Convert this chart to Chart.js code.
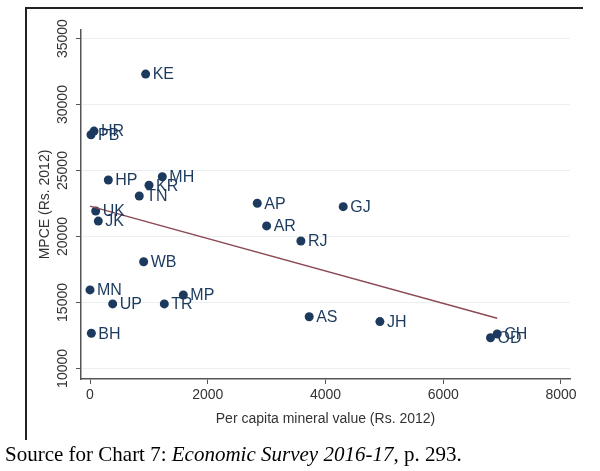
<!DOCTYPE html>
<html>
<head>
<meta charset="utf-8">
<script src="https://cdn.jsdelivr.net/npm/chart.js"></script>
<style>
  body { margin: 0; background: #fff; }
  #caja { position: relative; width: 600px; height: 471px; overflow: hidden; }
  #fuente {
    position: absolute; left: 5px; top: 442px;
    font-family: "Liberation Serif", "Times New Roman", serif;
    font-size: 21px; color: #000; white-space: nowrap;
  }
</style>
</head>
<body>
<div id="caja">
  <canvas id="myChart" width="600" height="471"></canvas>
  <div id="fuente">Source for Chart 7: <i>Economic Survey 2016-17</i>, p. 293.</div>
</div>
<script>
// Estados y valores
var estados = ['KE', 'HR', 'PB', 'HP', 'MH', 'KR', 'TN', 'UK', 'JK', 'WB', 'MN', 'UP', 'TR', 'MP', 'BH', 'AP', 'AR', 'RJ', 'GJ', 'AS', 'JH', 'CH', 'OD'];
var mineral = [945, 68, 17, 311, 1228, 1002, 837, 97, 141, 911, 0, 385, 1262, 1585, 23, 2841, 3000, 3582, 4301, 3723, 4924, 6916, 6803];
var mpce = [32310, 27990, 27710, 24280, 24530, 23880, 23070, 21930, 21170, 18090, 15950, 14890, 14890, 15570, 12670, 22520, 20800, 19660, 22260, 13920, 13550, 12610, 12330];

// Linea de ajuste (extremos)
var ajusteX = [0, 6916];
var ajusteY = [22300, 13800];

// Marcas de los ejes
var ticksX = [0, 2000, 4000, 6000, 8000];
var ticksY = [10000, 15000, 20000, 25000, 30000, 35000];

var colorPunto = '#1c3a5e';
var colorLinea = '#8c4a55';
var colorEje = '#555555';
var colorTexto = '#333333';

var puntos = [];
for (var i = 0; i < estados.length; i++) {
    puntos.push({ x: mineral[i], y: mpce[i] });
}
var linea = [];
for (var j = 0; j < ajusteX.length; j++) {
    linea.push({ x: ajusteX[j], y: ajusteY[j] });
}

// Etiquetas, textos rotados y marco
var extras = {
    id: 'extras',
    afterDraw: function(chart) {
        var ctx = chart.ctx;
        var area = chart.chartArea;
        var escY = chart.scales.y;
        ctx.save();

        // marco
        ctx.strokeStyle = '#222';
        ctx.lineWidth = 2;
        ctx.beginPath();
        ctx.moveTo(583, 8);
        ctx.lineTo(26, 8);
        ctx.lineTo(26, 440);
        ctx.stroke();

        // etiquetas del eje y (verticales)
        ctx.fillStyle = colorTexto;
        ctx.font = '14px "Liberation Sans", Arial, sans-serif';
        ctx.textAlign = 'center';
        ctx.textBaseline = 'middle';
        ticksY.forEach(function(v) {
            var py = escY.getPixelForValue(v);
            ctx.save();
            ctx.translate(63, py);
            ctx.rotate(-Math.PI / 2);
            ctx.fillText(String(v), 0, 0);
            ctx.restore();
        });

        // titulos de ejes
        ctx.save();
        ctx.translate(45, (area.top + area.bottom) / 2);
        ctx.rotate(-Math.PI / 2);
        ctx.fillText('MPCE (Rs. 2012)', 0, 0);
        ctx.restore();
        ctx.fillText('Per capita mineral value (Rs. 2012)', (area.left + area.right) / 2, 419);

        // nombres de los estados
        var meta = chart.getDatasetMeta(1);
        ctx.fillStyle = colorPunto;
        ctx.font = '16px "Liberation Sans", Arial, sans-serif';
        ctx.textAlign = 'left';
        meta.data.forEach(function(el, k) {
            ctx.fillText(estados[k], el.x + 7, el.y + 1);
        });
        ctx.restore();
    }
};

var ctx = document.getElementById('myChart').getContext('2d');
var myChart = new Chart(ctx, {
    type: 'scatter',
    data: {
        datasets: [
            {
                label: 'Fitted values',
                type: 'line',
                data: linea,
                borderColor: colorLinea,
                borderWidth: 1.5,
                pointRadius: 0,
                fill: false
            },
            {
                label: 'MPCE',
                data: puntos,
                backgroundColor: colorPunto,
                borderColor: colorPunto,
                pointRadius: 4.5,
                pointBorderWidth: 0
            }
        ]
    },
    options: {
        responsive: false,
        animation: false,
        devicePixelRatio: 1,
        layout: { padding: { top: 30, right: 30, left: 0, bottom: 0 } },
        plugins: {
            legend: { display: false },
            tooltip: { enabled: false }
        },
        scales: {
            x: {
                type: 'linear',
                min: -153,
                max: 8153,
                afterBuildTicks: function(scale) {
                    scale.ticks = ticksX.map(function(v) { return { value: v }; });
                },
                afterFit: function(scale) { scale.height = 92; },
                ticks: {
                    color: colorTexto,
                    font: { family: '"Liberation Sans", Arial, sans-serif', size: 14 },
                    padding: 3,
                    maxRotation: 0,
                    callback: function(v) { return String(v); }
                },
                grid: {
                    drawOnChartArea: false,
                    tickLength: 5,
                    tickColor: colorEje
                },
                border: { color: colorEje, width: 1.5 }
            },
            y: {
                type: 'linear',
                min: 9200,
                max: 35650,
                afterBuildTicks: function(scale) {
                    scale.ticks = ticksY.map(function(v) { return { value: v }; });
                },
                afterFit: function(scale) { scale.width = 81; },
                ticks: { display: false },
                grid: {
                    color: '#eceff1',
                    lineWidth: 1,
                    tickLength: 5,
                    tickColor: colorEje
                },
                border: { color: colorEje, width: 1.5 }
            }
        }
    },
    plugins: [extras]
});
</script>
</body>
</html>
